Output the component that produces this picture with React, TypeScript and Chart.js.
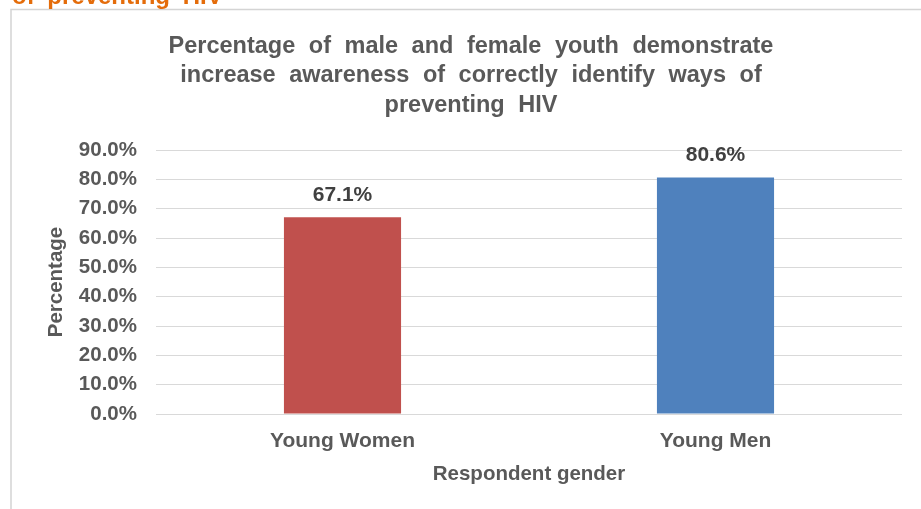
import React, { useEffect, useRef } from 'react';
import { Chart, registerables } from 'chart.js';

Chart.register(...registerables);

const categories = ['Young Women', 'Young Men'];
const values = [67.1, 80.6];
const barColors = ['#C0504D', '#4F81BD'];
const yMax = 90;
const yStep = 10;
const titleLines = [
  'Percentage of male and female youth demonstrate',
  'increase awareness of correctly identify ways of',
  'preventing HIV',
];
const headingFragment = 'of preventing HIV';
const xAxisTitle = 'Respondent gender';
const yAxisTitle = 'Percentage';

const FONT = '"Liberation Sans", Arial, sans-serif';
const TEXT = '#595959';

const framePlugin = {
  id: 'frame',
  beforeDraw(chart: any) {
    const ctx = chart.ctx;
    ctx.save();
    ctx.fillStyle = '#ffffff';
    ctx.fillRect(0, 0, chart.width, chart.height);
    ctx.strokeStyle = '#d4d4d4';
    ctx.lineWidth = 1.5;
    ctx.beginPath();
    ctx.moveTo(11, chart.height);
    ctx.lineTo(11, 9.5);
    ctx.lineTo(chart.width, 9.5);
    ctx.stroke();
    ctx.wordSpacing = '6px';
    ctx.fillStyle = '#E46C0A';
    ctx.font = `bold 24px ${FONT}`;
    ctx.textAlign = 'left';
    ctx.textBaseline = 'alphabetic';
    ctx.fillText(headingFragment, 12, 4);
    ctx.restore();
  },
  afterDraw(chart: any) {
    const ctx = chart.ctx;
    ctx.save();
    ctx.wordSpacing = '7px';
    ctx.fillStyle = TEXT;
    ctx.font = `bold 23.5px ${FONT}`;
    ctx.textAlign = 'center';
    ctx.textBaseline = 'middle';
    titleLines.forEach((line, i) => {
      ctx.fillText(line, 471, 46.5 + i * 29.5);
    });
    ctx.restore();
  },
};

const labelPlugin = {
  id: 'barLabels',
  afterDatasetsDraw(chart: any) {
    const ctx = chart.ctx;
    const meta = chart.getDatasetMeta(0);
    ctx.save();
    ctx.fillStyle = '#404040';
    ctx.font = `bold 21px ${FONT}`;
    ctx.textAlign = 'center';
    ctx.textBaseline = 'middle';
    meta.data.forEach((el: any, i: number) => {
      ctx.fillText(values[i].toFixed(1) + '%', el.x, el.y - 22);
    });
    ctx.restore();
  },
};

export default function App() {
  const ref = useRef<HTMLCanvasElement>(null);

  useEffect(() => {
    document.body.style.margin = '0';
    const canvas = ref.current!;
    const chart = new Chart(canvas, {
      type: 'bar',
      data: {
        labels: categories,
        datasets: [
          {
            data: values,
            backgroundColor: barColors,
            barPercentage: 0.314,
            categoryPercentage: 1,
          },
        ],
      },
      options: {
        responsive: false,
        animation: false,
        devicePixelRatio: 1,
        layout: { padding: { top: 150, left: 0, right: 19, bottom: 0 } },
        plugins: {
          legend: { display: false },
          title: { display: false },
          tooltip: { enabled: false },
        },
        scales: {
          x: {
            afterFit(scale: any) {
              scale.height = 95;
            },
            grid: { display: false },
            border: { display: false },
            ticks: {
              color: TEXT,
              font: { family: FONT, size: 21, weight: 'bold' },
              padding: 7,
            },
            title: {
              display: true,
              text: xAxisTitle,
              color: TEXT,
              font: { family: FONT, size: 20.5, weight: 'bold' },
              padding: { top: 0, bottom: 22 },
            },
          },
          y: {
            min: 0,
            max: yMax,
            afterFit(scale: any) {
              scale.width = 156;
            },
            grid: { color: '#d9d9d9', lineWidth: 1, drawTicks: false },
            border: { display: false },
            ticks: {
              stepSize: yStep,
              color: TEXT,
              font: { family: FONT, size: 20.5, weight: 'bold' },
              padding: 19,
              callback: (v: any) => Number(v).toFixed(1) + '%',
            },
            title: {
              display: true,
              text: yAxisTitle,
              color: TEXT,
              font: { family: FONT, size: 20.5, weight: 'bold' },
              padding: { top: 44, bottom: 0 },
            },
          },
        },
      },
      plugins: [framePlugin, labelPlugin],
    });
    return () => chart.destroy();
  }, []);

  return <canvas ref={ref} width={921} height={509} style={{ display: 'block' }} />;
}
